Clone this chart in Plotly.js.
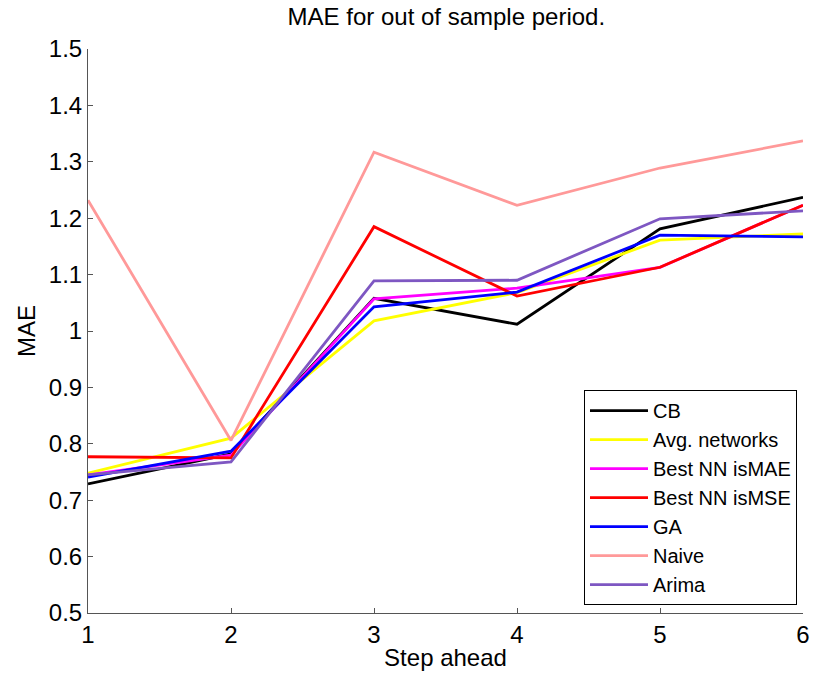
<!DOCTYPE html>
<html>
<head>
<meta charset="utf-8">
<script src="https://cdn.plot.ly/plotly-3.0.1.min.js"></script>
<style>
  html, body { margin: 0; padding: 0; background: #fff; }
  #chart { width: 816px; height: 681px; }
</style>
</head>
<body>
<div id="chart"></div>
<script>
// Forecast horizon (steps ahead)
const steps = [1, 2, 3, 4, 5, 6];

// Out-of-sample MAE per model
const cb         = [0.729, 0.782, 1.058, 1.012, 1.181, 1.237];
const avgNets    = [0.748, 0.810, 1.018, 1.068, 1.161, 1.172];
const bestNNMAE  = [0.745, 0.780, 1.057, 1.076, 1.113, 1.223];
const bestNNMSE  = [0.777, 0.775, 1.185, 1.062, 1.113, 1.223];
const ga         = [0.741, 0.787, 1.043, 1.069, 1.170, 1.167];
const naive      = [1.232, 0.806, 1.317, 1.223, 1.289, 1.337];
const arima      = [0.745, 0.768, 1.089, 1.090, 1.199, 1.213];

const seriesNames = ['CB', 'Avg. networks', 'Best NN isMAE', 'Best NN isMSE', 'GA', 'Naive', 'Arima'];
const seriesData  = [cb, avgNets, bestNNMAE, bestNNMSE, ga, naive, arima];
const seriesColors = ['#000000', '#ffff00', '#ff00ff', '#ff0000', '#0000ff', '#ff9999', '#7e57c2'];

const traces = seriesNames.map((name, i) => ({
  x: steps,
  y: seriesData[i],
  name: name,
  type: 'scatter',
  mode: 'lines',
  line: { color: seriesColors[i], width: 2.8 }
}));

const font = 'Liberation Sans, Arial, sans-serif';

const layout = {
  width: 816,
  height: 681,
  margin: { l: 88, r: 13, t: 49, b: 68 },
  paper_bgcolor: '#ffffff',
  plot_bgcolor: '#ffffff',
  font: { family: font, color: '#000000' },
  title: {
    text: 'MAE for out of sample period.',
    font: { family: font, size: 24, color: '#000' },
    x: 0.547, xanchor: 'center',
    y: 0.975, yanchor: 'middle'
  },
  showlegend: true,
  legend: {
    x: 0.9916, xanchor: 'right',
    y: 0.014, yanchor: 'bottom',
    bgcolor: '#ffffff',
    bordercolor: '#000000',
    borderwidth: 1,
    itemwidth: 58,
    font: { family: font, size: 20, color: '#000' },
    tracegroupgap: 0
  },
  xaxis: {
    range: [1, 6],
    tickvals: steps,
    ticks: 'inside',
    ticklen: 5,
    tickcolor: '#555',
    showline: true,
    linecolor: '#555',
    linewidth: 1,
    showgrid: false,
    zeroline: false,
    tickfont: { family: font, size: 24, color: '#000' },
    title: { text: 'Step ahead', font: { family: font, size: 24, color: '#000' }, standoff: 2 }
  },
  yaxis: {
    range: [0.5, 1.5],
    dtick: 0.1,
    tick0: 0.5,
    ticks: 'inside',
    ticklen: 5,
    tickcolor: '#555',
    showline: true,
    linecolor: '#555',
    linewidth: 1,
    showgrid: false,
    zeroline: false,
    tickfont: { family: font, size: 24, color: '#000' },
    title: { text: 'MAE', font: { family: font, size: 24, color: '#000' }, standoff: 6 }
  }
};

Plotly.newPlot('chart', traces, layout, { displayModeBar: false, staticPlot: true });
</script>
</body>
</html>
